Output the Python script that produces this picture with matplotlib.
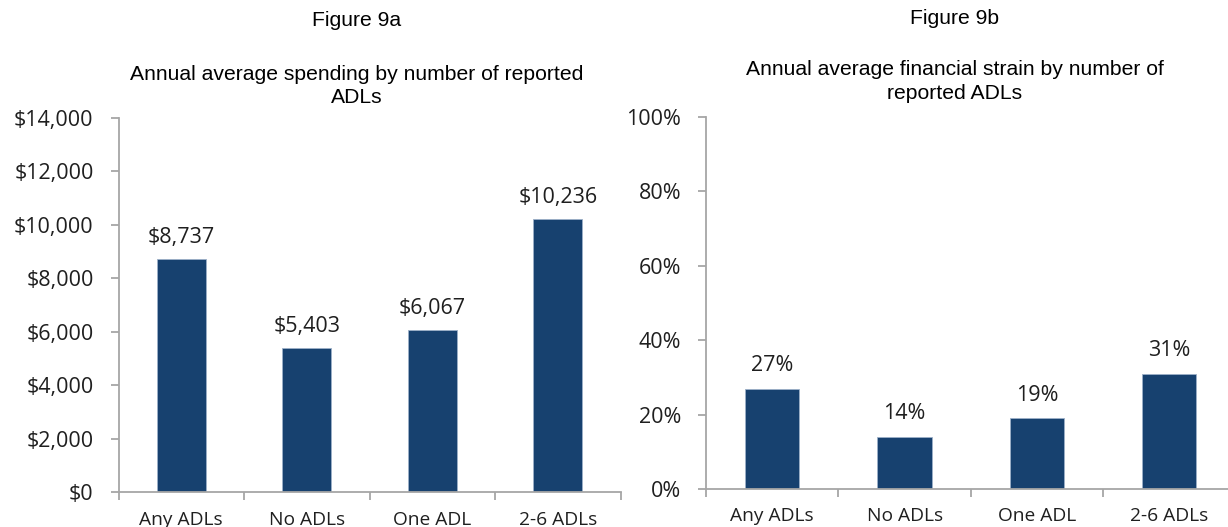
import matplotlib
matplotlib.use("Agg")
import matplotlib.pyplot as plt

categories = ["Any ADLs", "No ADLs", "One ADL", "2-6 ADLs"]
spending = [8737, 5403, 6067, 10236]
strain = [27, 14, 19, 31]
spend_ticks = [0, 2000, 4000, 6000, 8000, 10000, 12000, 14000]
strain_ticks = [0, 20, 40, 60, 80, 100]

BAR = "#17416F"
SPINE = "#A6A6A6"
TXT = "#1F1F1F"
LABEL_FONT = ["Open Sans", "DejaVu Sans"]
TITLE_FONT = ["Liberation Sans", "DejaVu Sans"]

fig = plt.figure(figsize=(12.28, 5.27), dpi=100)


def style(ax, ticks, fmt, ymax):
    x = range(len(categories))
    ax.set_xlim(-0.5, len(categories) - 0.5)
    ax.set_ylim(0, ymax)
    for s in ("top", "right"):
        ax.spines[s].set_visible(False)
    for s in ("left", "bottom"):
        ax.spines[s].set_color(SPINE)
        ax.spines[s].set_linewidth(1.3)
    ax.set_yticks(ticks)
    ax.set_yticklabels([fmt(t) for t in ticks], fontsize=15.5, color=TXT, family=LABEL_FONT)
    ax.tick_params(axis="y", length=6, width=1.3, color=SPINE, pad=12)
    ax.set_xticks(list(x))
    ax.set_xticklabels(categories, fontsize=13.8, color=TXT, family=LABEL_FONT)
    ax.tick_params(axis="x", length=0, pad=13)
    ax.set_xticks([i - 0.5 for i in range(len(categories) + 1)], minor=True)
    ax.tick_params(axis="x", which="minor", length=6, width=1.3, color=SPINE)


ax1 = fig.add_axes([0.0965, 0.0655, 0.409, 0.7106])
ax1.bar(range(len(categories)), spending, width=0.39, color=BAR, edgecolor="#9DB0C8", linewidth=0.6)
style(ax1, spend_ticks, lambda t: f"${t:,.0f}", 14000)
for i, v in enumerate(spending):
    ax1.annotate(f"${v:,}", (i, v), xytext=(0, 8), textcoords="offset points",
                 ha="center", va="bottom", fontsize=15.5, color=TXT, family=LABEL_FONT)

ax2 = fig.add_axes([0.575, 0.0721, 0.431, 0.706])
ax2.bar(range(len(categories)), strain, width=0.41, color=BAR, edgecolor="#9DB0C8", linewidth=0.6)
style(ax2, strain_ticks, lambda t: f"{t:.0f}%", 100)
for i, v in enumerate(strain):
    ax2.annotate(f"{v}%", (i, v), xytext=(0, 9), textcoords="offset points",
                 ha="center", va="bottom", fontsize=15.5, color=TXT, family=LABEL_FONT)

TSIZE = 15.2
fig.text(357 / 1228, 1 - 20 / 527, "Figure 9a", ha="center", va="center", fontsize=TSIZE,
         color="#000000", family=TITLE_FONT)
fig.text(357 / 1228, 1 - 86 / 527, "Annual average spending by number of reported\nADLs",
         ha="center", va="center", fontsize=TSIZE, color="#000000", family=TITLE_FONT,
         linespacing=1.3)
fig.text(955 / 1228, 1 - 19 / 527, "Figure 9b", ha="center", va="center", fontsize=TSIZE,
         color="#000000", family=TITLE_FONT)
fig.text(955 / 1228, 1 - 81.5 / 527, "Annual average financial strain by number of\nreported ADLs",
         ha="center", va="center", fontsize=TSIZE, color="#000000", family=TITLE_FONT,
         linespacing=1.3)

fig.savefig("out.png", dpi=100)
